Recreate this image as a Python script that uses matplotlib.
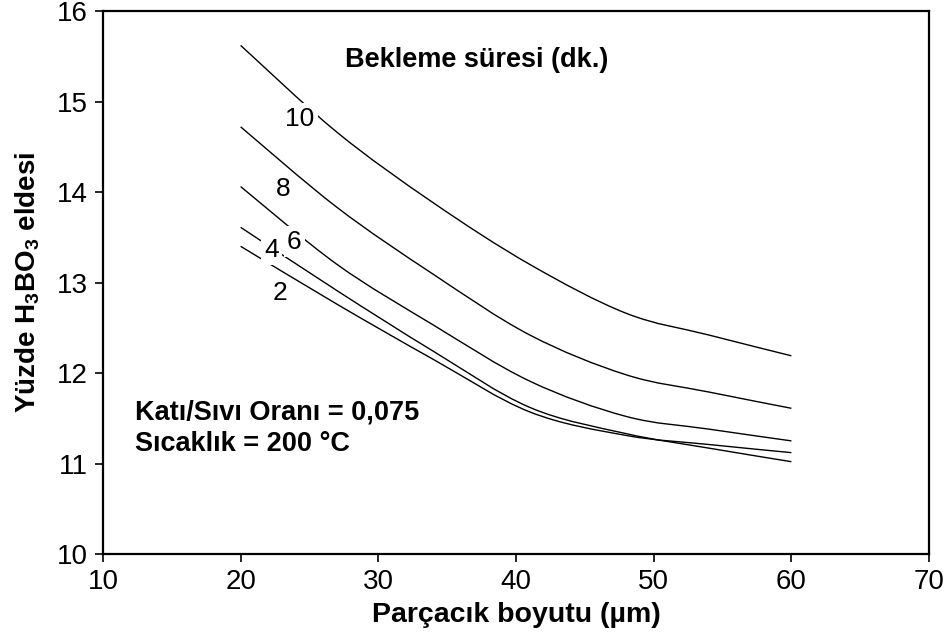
import matplotlib
matplotlib.use('Agg')
import matplotlib.pyplot as plt
from matplotlib.path import Path
from matplotlib.patches import PathPatch

plt.rcParams['font.family'] = ['Liberation Sans', 'DejaVu Sans']
plt.rcParams['mathtext.fontset'] = 'custom'
plt.rcParams['mathtext.rm'] = 'Liberation Sans'
plt.rcParams['mathtext.bf'] = 'Liberation Sans:bold'

# particle size (µm) and % H3BO3 yield for each holding time (min)
size = [20, 27, 34, 41, 48, 54, 60]
yield_10 = [15.62, 14.66, 13.88, 13.20, 12.66, 12.42, 12.19]
yield_8 = [14.72, 13.83, 13.09, 12.42, 11.98, 11.79, 11.61]
yield_6 = [14.06, 13.20, 12.53, 11.91, 11.52, 11.38, 11.25]
yield_4 = [13.61, 12.91, 12.24, 11.62, 11.33, 11.17, 11.02]
yield_2 = [13.40, 12.76, 12.15, 11.57, 11.31, 11.21, 11.12]

series = {'10': yield_10, '8': yield_8, '6': yield_6, '4': yield_4, '2': yield_2}
label_pos = {'10': (24.3, 14.81), '8': (23.1, 14.03), '6': (23.9, 13.45),
             '4': (22.25, 13.36), '2': (22.85, 12.88)}


def smooth_path(x, y):
    # excel-like smoothed line: bezier segments through the data points
    pts = list(zip(x, y))
    n = len(pts)
    verts = [pts[0]]
    codes = [Path.MOVETO]
    for i in range(n - 1):
        p0 = pts[max(i - 1, 0)]
        p1 = pts[i]
        p2 = pts[i + 1]
        p3 = pts[min(i + 2, n - 1)]
        c1 = (p1[0] + (p2[0] - p0[0]) / 6, p1[1] + (p2[1] - p0[1]) / 6)
        c2 = (p2[0] - (p3[0] - p1[0]) / 6, p2[1] - (p3[1] - p1[1]) / 6)
        verts += [c1, c2, p2]
        codes += [Path.CURVE4] * 3
    return Path(verts, codes)


def main():
    fig = plt.figure(figsize=(9.49, 6.37), dpi=100)
    ax = fig.add_axes([0.1085, 0.1303, 0.8705, 0.8524])

    for name, y in series.items():
        ax.add_patch(PathPatch(smooth_path(size, y), facecolor='none',
                               edgecolor='black', lw=1.0, zorder=2))
        tx, ty = label_pos[name]
        ax.text(tx, ty, name, fontsize=19, ha='center', va='center', zorder=3,
                bbox=dict(facecolor='white', edgecolor='none', pad=2.5))

    ax.text(27.6, 15.46, 'Bekleme süresi (dk.)', fontsize=19.5,
            fontweight='bold', ha='left', va='center')
    ax.text(12.3, 11.56, 'Katı/Sıvı Oranı = 0,075', fontsize=19.5,
            fontweight='bold', ha='left', va='center')
    ax.text(12.3, 11.22, 'Sıcaklık = 200 °C', fontsize=19.5, fontweight='bold',
            ha='left', va='center')

    ax.set_xlim(10, 70)
    ax.set_ylim(10, 16)
    ax.set_xticks(range(10, 71, 10))
    ax.set_yticks(range(10, 17))
    ax.tick_params(direction='out', length=6, width=1.2, labelsize=20, pad=5)
    for s in ax.spines.values():
        s.set_linewidth(1.6)

    ax.set_xlabel('Parçacık boyutu (µm)', fontsize=20.5, fontweight='bold',
                  labelpad=5)
    ax.set_ylabel(r'Yüzde H$_\mathbf{3}$BO$_\mathbf{3}$ eldesi', fontsize=20,
                  fontweight='bold')
    ax.yaxis.set_label_coords(-0.074, 0.5)

    fig.savefig('out.png', dpi=100)


main()
